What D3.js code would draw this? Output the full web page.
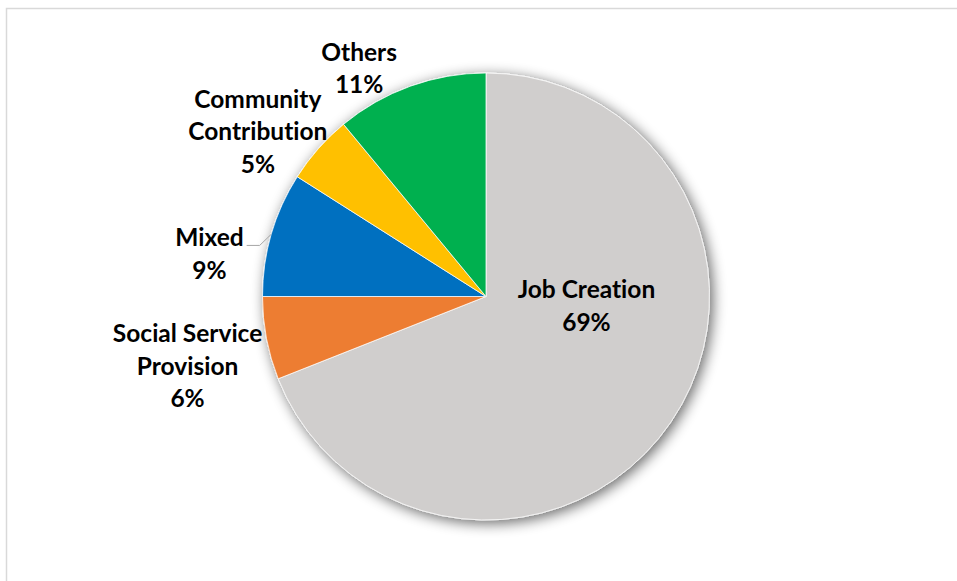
<!DOCTYPE html>
<html>
<head>
<meta charset="utf-8">
<script src="https://cdn.jsdelivr.net/npm/d3@7"></script>
<style>
  body { margin: 0; background: #fff; }
  svg { display: block; }
</style>
</head>
<body>
<div id="chart"></div>
<script>
var width = 957, height = 581;

// slices, clockwise from 12 o'clock
var categories = ["Job Creation", "Social Service Provision", "Mixed", "Community Contribution", "Others"];
var shares = [69, 6, 9, 5, 11];
var colors = ["#d0cecd", "#ed7d31", "#0070c0", "#ffc000", "#00b050"];

// label lines (Excel wraps them this way)
var labelLines = [
    ["Job Creation"],
    ["Social Service", "Provision"],
    ["Mixed"],
    ["Community", "Contribution"],
    ["Others"]
];
// nudge from the label anchor (outside: arc at 1.2r, inside: centroid)
var labelNudge = [[8, -53], [-35, 20], [-19, 33], [-27, 13], [-36, 25]];

var cx = 486, cy = 296.5, radius = 223.5;

var svg = d3.select("#chart").append("svg")
    .attr("width", width)
    .attr("height", height);

// chart area frame
svg.append("rect")
    .attr("x", 6.5).attr("y", 8.5)
    .attr("width", width + 20).attr("height", height + 20)
    .attr("fill", "none")
    .attr("stroke", "#d9d9d9")
    .attr("stroke-width", 1.5);

var defs = svg.append("defs");
var shadow = defs.append("filter")
    .attr("id", "shadow")
    .attr("x", "-20%").attr("y", "-20%")
    .attr("width", "140%").attr("height", "140%");
shadow.append("feGaussianBlur").attr("in", "SourceAlpha").attr("stdDeviation", 7).attr("result", "blur");
shadow.append("feOffset").attr("in", "blur").attr("dx", 3).attr("dy", 3).attr("result", "off");
shadow.append("feComponentTransfer").attr("in", "off").attr("result", "soft")
    .append("feFuncA").attr("type", "linear").attr("slope", 0.6);
var merge = shadow.append("feMerge");
merge.append("feMergeNode").attr("in", "soft");
merge.append("feMergeNode").attr("in", "SourceGraphic");

var data = categories.map(function(c, i) { return {name: c, value: shares[i], i: i}; });

var pie = d3.pie().sort(null).value(function(d) { return d.value; });
var arcs = pie(data);

var arc = d3.arc().innerRadius(0).outerRadius(radius);
var outerArc = d3.arc().innerRadius(radius * 1.2).outerRadius(radius * 1.2);
var edgeArc = d3.arc().innerRadius(radius).outerRadius(radius);

var g = svg.append("g")
    .attr("transform", "translate(" + cx + "," + cy + ")");

g.append("g")
    .attr("filter", "url(#shadow)")
    .selectAll("path")
    .data(arcs)
    .enter()
    .append("path")
    .attr("d", arc)
    .attr("fill", function(d) { return colors[d.data.i]; })
    .attr("stroke", "#fff")
    .attr("stroke-width", 0.75);

var lineH = 32.5;

var labels = g.selectAll(".lbl")
    .data(arcs)
    .enter()
    .append("text")
    .attr("class", "lbl")
    .attr("text-anchor", "middle")
    .style("font-family", "Lato, 'Liberation Sans', sans-serif")
    .style("font-weight", "bold")
    .style("font-size", "24.5px")
    .style("font-variant-ligatures", "none")
    .attr("fill", "#000")
    .each(function(d) {
        var i = d.data.i;
        var base = i === 0 ? arc.centroid(d) : outerArc.centroid(d);
        var x = base[0] + labelNudge[i][0];
        var y = base[1] + labelNudge[i][1];
        var lines = labelLines[i].concat([d.data.value + "%"]);
        var top = y - (lines.length - 1) * lineH / 2 + 8;
        var t = d3.select(this);
        lines.forEach(function(s, k) {
            t.append("tspan")
                .attr("x", x)
                .attr("y", top + k * lineH)
                .text(s);
        });
        d.lx = x;
        d.ly = top;
    });

// leader line for Mixed
var mixed = arcs[2];
var start = edgeArc.centroid(mixed);
var lbW = labels.filter(function(d) { return d.data.i === 2; }).node().getBBox();
var lx = lbW.x + lbW.width + 3;
var ly = mixed.ly - 1;
g.append("polyline")
    .attr("points", [[lx, ly], [lx + 13, ly], start].map(function(p) { return p.join(","); }).join(" "))
    .attr("fill", "none")
    .attr("stroke", "#a6a6a6")
    .attr("stroke-width", 1);
</script>
</body>
</html>
